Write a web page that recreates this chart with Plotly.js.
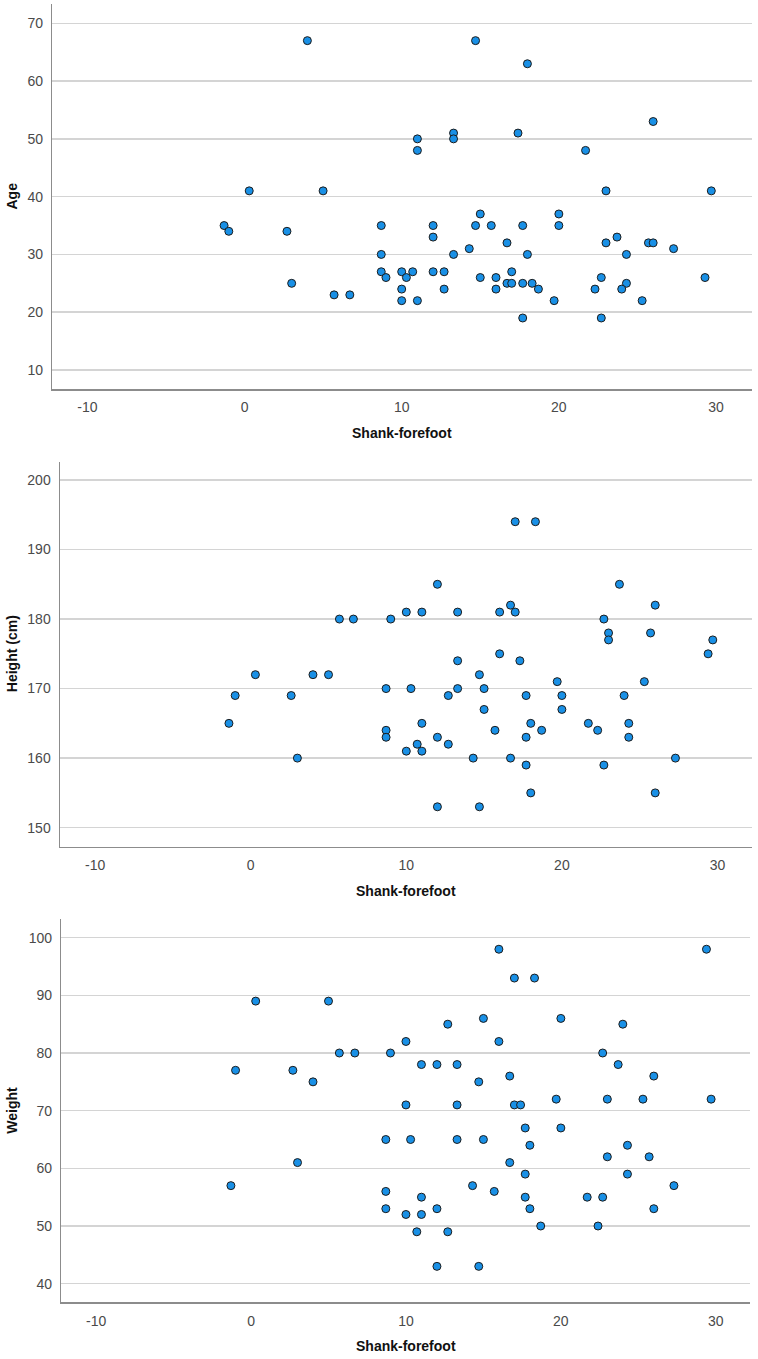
<!DOCTYPE html>
<html>
<head>
<meta charset="utf-8">
<script src="https://cdn.plot.ly/plotly-3.0.1.min.js"></script>
<style>
  html, body { margin: 0; padding: 0; background: #ffffff; }
  #chart { width: 758px; height: 1359px; }
</style>
</head>
<body>
<div id="chart"></div>
<script>
// Shank-forefoot measurement against age
const ageShank = [4.0, 0.3, 5.0, -1.3, -1.0, 2.7, 3.0, 5.7, 6.7, 14.7, 18.0, 26.0, 11.0, 11.0, 13.3, 13.3, 17.4, 21.7, 23.0, 29.7, 15.0, 20.0, 8.7, 12.0, 14.7, 15.7, 17.7, 20.0, 12.0, 23.7, 16.7, 23.0, 25.7, 26.0, 14.3, 27.3, 8.7, 13.3, 18.0, 24.3, 8.7, 10.0, 10.7, 12.0, 12.7, 17.0, 9.0, 10.3, 15.0, 16.0, 22.7, 29.3, 16.7, 17.0, 17.7, 18.3, 24.3, 10.0, 12.7, 16.0, 18.7, 22.3, 24.0, 10.0, 11.0, 19.7, 25.3, 17.7, 22.7];
const ageValues = [67, 41, 41, 35, 34, 34, 25, 23, 23, 67, 63, 53, 50, 48, 51, 50, 51, 48, 41, 41, 37, 37, 35, 35, 35, 35, 35, 35, 33, 33, 32, 32, 32, 32, 31, 31, 30, 30, 30, 30, 27, 27, 27, 27, 27, 27, 26, 26, 26, 26, 26, 26, 25, 25, 25, 25, 25, 24, 24, 24, 24, 24, 24, 22, 22, 22, 22, 19, 19];

// Shank-forefoot measurement against height
const heightShank = [-1.4, -1.0, 0.3, 2.6, 3.0, 4.0, 5.0, 5.7, 6.6, 17.0, 18.3, 12.0, 23.7, 16.7, 26.0, 10.0, 11.0, 13.3, 16.0, 17.0, 9.0, 22.7, 23.0, 25.7, 23.0, 29.7, 16.0, 29.4, 13.3, 17.3, 14.7, 19.7, 25.3, 8.7, 10.3, 13.3, 15.0, 12.7, 17.7, 20.0, 24.0, 15.0, 20.0, 11.0, 18.0, 21.7, 24.3, 8.7, 15.7, 18.7, 22.3, 8.7, 12.0, 17.7, 24.3, 10.7, 12.7, 10.0, 11.0, 14.3, 16.7, 27.3, 17.7, 22.7, 18.0, 26.0, 12.0, 14.7];
const heightValues = [165, 169, 172, 169, 160, 172, 172, 180, 180, 194, 194, 185, 185, 182, 182, 181, 181, 181, 181, 181, 180, 180, 178, 178, 177, 177, 175, 175, 174, 174, 172, 171, 171, 170, 170, 170, 170, 169, 169, 169, 169, 167, 167, 165, 165, 165, 165, 164, 164, 164, 164, 163, 163, 163, 163, 162, 162, 161, 161, 160, 160, 160, 159, 159, 155, 155, 153, 153];

// Shank-forefoot measurement against weight
const weightShank = [0.3, 5.0, 5.7, 6.7, -1.0, 2.7, 4.0, 3.0, -1.3, 16.0, 29.4, 17.0, 18.3, 15.0, 20.0, 12.7, 24.0, 10.0, 16.0, 9.0, 22.7, 11.0, 12.0, 13.3, 23.7, 16.7, 26.0, 14.7, 19.7, 23.0, 25.3, 29.7, 10.0, 13.3, 17.0, 17.4, 17.7, 20.0, 8.7, 10.3, 13.3, 15.0, 18.0, 24.3, 23.0, 25.7, 16.7, 17.7, 24.3, 14.3, 27.3, 8.7, 15.7, 11.0, 17.7, 21.7, 22.7, 8.7, 12.0, 18.0, 26.0, 10.0, 11.0, 18.7, 22.4, 10.7, 12.7, 12.0, 14.7];
const weightValues = [89, 89, 80, 80, 77, 77, 75, 61, 57, 98, 98, 93, 93, 86, 86, 85, 85, 82, 82, 80, 80, 78, 78, 78, 78, 76, 76, 75, 72, 72, 72, 72, 71, 71, 71, 71, 67, 67, 65, 65, 65, 65, 64, 64, 62, 62, 61, 59, 59, 57, 57, 56, 56, 55, 55, 55, 55, 53, 53, 53, 53, 52, 52, 50, 50, 49, 49, 43, 43];

const xTickVals = [-10, 0, 10, 20, 30];
const xTickText = ['-10', '0', '10', '20', '30'];
const ageTicks = [10, 20, 30, 40, 50, 60, 70];
const heightTicks = [150, 160, 170, 180, 190, 200];
const weightTicks = [40, 50, 60, 70, 80, 90, 100];

const xTitle = 'Shank-forefoot';
const yTitles = ['Age', 'Height (cm)', 'Weight'];

const W = 758, H = 1359;
const FONT = 'Liberation Sans, Arial, sans-serif';

const marker = {
  size: 8,
  color: '#1990e6',
  line: { color: '#1c1c1c', width: 1 }
};

function scatter(x, y, n) {
  const s = n === 1 ? '' : String(n);
  return {
    type: 'scatter', mode: 'markers',
    x: x, y: y,
    xaxis: 'x' + s, yaxis: 'y' + s,
    marker: marker,
    hoverinfo: 'x+y'
  };
}

// panel boxes in pixels: [left, right, top, bottom]
const boxes = [
  [52.3, 751.7, 4, 389],
  [60, 752.3, 461.7, 846.7],
  [61.3, 750.3, 919, 1302.3]
];
const xRanges = [[-12.23, 32.27], [-12.26, 32.24], [-12.25, 32.23]];
const yRanges = [[6.71, 73.34], [147.26, 202.63], [36.77, 103.24]];
const yTicks = [ageTicks, heightTicks, weightTicks];

function xAxis(i) {
  const b = boxes[i];
  return {
    domain: [b[0] / W, b[1] / W],
    range: xRanges[i],
    anchor: i === 0 ? 'y' : 'y' + (i + 1),
    tickmode: 'array', tickvals: xTickVals, ticktext: xTickText,
    showgrid: false, zeroline: false,
    showline: true, linecolor: '#8c8c8c', linewidth: 1.5,
    ticks: '', ticklabelstandoff: 5,
    tickfont: { family: FONT, size: 14, color: '#4a4a4a' },
    fixedrange: true
  };
}

function yAxis(i) {
  const b = boxes[i];
  return {
    domain: [1 - b[3] / H, 1 - b[2] / H],
    range: yRanges[i],
    anchor: i === 0 ? 'x' : 'x' + (i + 1),
    tickmode: 'array', tickvals: yTicks[i],
    showgrid: true, gridcolor: '#d4d4d4', gridwidth: 1.5,
    zeroline: false,
    showline: true, linecolor: '#8c8c8c', linewidth: 1.5,
    ticks: '', ticklabelstandoff: 5,
    tickfont: { family: FONT, size: 14, color: '#4a4a4a' },
    fixedrange: true
  };
}

const annotations = [];
boxes.forEach(function (b, i) {
  annotations.push({
    xref: 'paper', yref: 'paper',
    x: ((b[0] + b[1]) / 2) / W, y: 1 - (b[3] + 44) / H,
    xanchor: 'center', yanchor: 'middle',
    text: '<b>' + xTitle + '</b>', showarrow: false,
    font: { family: FONT, size: 14, color: '#111111' }
  });
  annotations.push({
    xref: 'paper', yref: 'paper',
    x: 12 / W, y: 1 - ((b[2] + b[3]) / 2) / H,
    xanchor: 'center', yanchor: 'middle', textangle: -90,
    text: '<b>' + yTitles[i] + '</b>', showarrow: false,
    font: { family: FONT, size: 14, color: '#111111' }
  });
});

const layout = {
  width: W, height: H,
  margin: { l: 0, r: 0, t: 0, b: 0 },
  paper_bgcolor: '#ffffff', plot_bgcolor: '#ffffff',
  showlegend: false,
  xaxis: xAxis(0), yaxis: yAxis(0),
  xaxis2: xAxis(1), yaxis2: yAxis(1),
  xaxis3: xAxis(2), yaxis3: yAxis(2),
  annotations: annotations
};

Plotly.newPlot('chart', [
  scatter(ageShank, ageValues, 1),
  scatter(heightShank, heightValues, 2),
  scatter(weightShank, weightValues, 3)
], layout, { displayModeBar: false, staticPlot: true });
</script>
</body>
</html>
